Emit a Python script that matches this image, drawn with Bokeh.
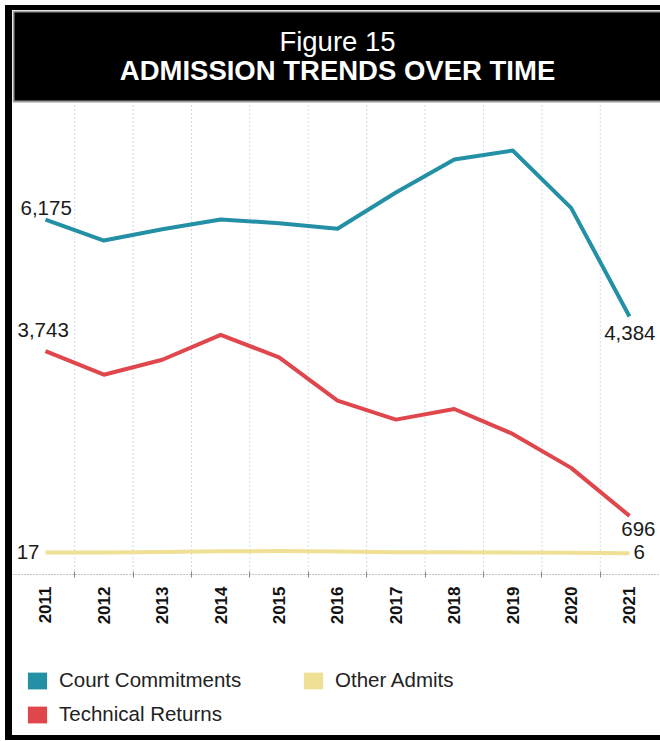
import math
from bokeh.plotting import figure
from bokeh.models import Range1d, FixedTicker, Legend, LegendItem
from bokeh.core.properties import value
from bokeh.embed import file_html
from bokeh.resources import INLINE

# ---- data ----
years = [2011, 2012, 2013, 2014, 2015, 2016, 2017, 2018, 2019, 2020, 2021]
year_labels = ["2011", "2012", "2013", "2014", "2015", "2016", "2017", "2018", "2019", "2020", "2021"]
court = [6175, 5790, 6000, 6180, 6110, 6007, 6678, 7289, 7455, 6395, 4384]
technical = [3743, 3308, 3585, 4046, 3627, 2828, 2477, 2673, 2212, 1584, 696]
other = [17, 20, 28, 40, 45, 35, 25, 22, 18, 12, 6]
series_names = ["Court Commitments", "Technical Returns", "Other Admits"]
series_colors = ["#2490a5", "#e0474c", "#f0e096"]
title_lines = ["Figure 15", "ADMISSION TRENDS OVER TIME"]

FONT = "Liberation Sans"
W, H = 648, 725          # visible content box
BL, BT, BB = 7, 5, 5     # css borders (left, top, bottom)
AXIS_Y = -388.5          # value level where the category axis sits
UNITS_PER_PX = 18.5
ZERO_PX = 543            # pixel row of value 0 inside the frame

p = figure(width=W, height=H, output_backend="svg", toolbar_location=None,
           x_range=Range1d(2010.435, 2021.531),
           y_range=Range1d(-(H - ZERO_PX) * UNITS_PER_PX, ZERO_PX * UNITS_PER_PX),
           min_border_left=0, min_border_right=BL, min_border_top=0, min_border_bottom=BT + BB,
           y_axis_location=None, outline_line_color=None,
           background_fill_color="white", border_fill_color="white")
p.styles = {"box-sizing": "content-box", "margin-left": "5px", "margin-top": "5px",
            "overflow": "hidden",
            "border-left": f"{BL}px solid black", "border-top": f"{BT}px solid black",
            "border-bottom": f"{BB}px solid black"}
p.extra_x_ranges = {"px": Range1d(0, W)}
p.extra_y_ranges = {"px": Range1d(H, 0)}
p.xgrid.visible = False
p.ygrid.visible = False

# vertical dotted separators between years
boundaries = [y + 0.5 for y in years[:-1]]
p.segment(x0=boundaries, x1=boundaries, y0=[AXIS_Y] * len(boundaries),
          y1=[(ZERO_PX - 93) * UNITS_PER_PX] * len(boundaries),
          line_color="#aab8c6", line_width=1, line_dash="1 3")

# title band
p.quad(left=[1], right=[W + 5], top=[1], bottom=[91], x_range_name="px", y_range_name="px",
       fill_color="black", line_color="#9a9a9a", line_width=2)
p.text(x=[325], y=[31], text=[title_lines[0]], x_range_name="px", y_range_name="px",
       text_font=value(FONT), text_font_size="27.5px", text_color="white",
       text_align="center", text_baseline="middle")
p.text(x=[325], y=[60], text=[title_lines[1]], x_range_name="px", y_range_name="px",
       text_font=value(FONT), text_font_size="27.5px", text_font_style="bold",
       text_color="white", text_align="center", text_baseline="middle")

# series lines (+ zero-height areas used as square legend swatches)
series = [court, technical, other]
line_rs, swatch_rs = [], []
for vals, col in zip(series, series_colors):
    line_rs.append(p.line(years, vals, line_color=col, line_width=4, line_join="round"))
    swatch_rs.append(p.varea(x=years, y1=vals, y2=vals, fill_color=col))

# end labels
def lab(x, y, txt, xo, yo, align):
    p.text(x=[x], y=[y], text=[txt], x_offset=xo, y_offset=yo, text_align=align,
           text_baseline="middle", text_font=value(FONT), text_font_size="20.5px",
           text_color="#1a1a1a")

lab(years[0], court[0], f"{court[0]:,}", -25, -12, "left")
lab(years[-1], court[-1], f"{court[-1]:,}", 26, 16, "right")
lab(years[0], technical[0], f"{technical[0]:,}", -28, -21, "left")
lab(years[-1], technical[-1], f"{technical[-1]:,}", 26, 13, "right")
lab(years[0], other[0], f"{other[0]:,}", -6, -1, "right")
lab(years[-1], other[-1], f"{other[-1]:,}", 4, -1, "left")

# x axis, pinned at AXIS_Y inside the frame
ax = p.xaxis[0]
ax.fixed_location = AXIS_Y
ax.ticker = FixedTicker(ticks=years, minor_ticks=boundaries)
ax.major_label_overrides = {y: l for y, l in zip(years, year_labels)}
ax.major_label_orientation = math.pi / 2
ax.major_label_text_font = FONT
ax.major_label_text_font_size = "17px"
ax.major_label_text_font_style = "bold"
ax.major_label_text_color = "#111111"
ax.major_label_standoff = 9
ax.major_tick_line_color = None
ax.major_tick_in = 0
ax.major_tick_out = 0
ax.minor_tick_line_color = "#888888"
ax.minor_tick_in = 3
ax.minor_tick_out = 3
ax.axis_line_color = "#888888"
ax.axis_line_dash = "1 2"

# legend (square swatches) in the lower part of the frame
items = [LegendItem(label=n, renderers=[s]) for n, s in zip(series_names, swatch_rs)]
legend = Legend(items=items, orientation="vertical", ncols=2, location=(13, 9),
                glyph_width=24, glyph_height=21, label_standoff=10, spacing=10,
                padding=0, margin=0, label_width=232, label_height=21,
                label_text_font=FONT, label_text_font_size="20.5px",
                label_text_color="#222222", border_line_color=None,
                background_fill_alpha=0)
p.add_layout(legend, "center")

open("out.html", "w").write(file_html(p, INLINE))
